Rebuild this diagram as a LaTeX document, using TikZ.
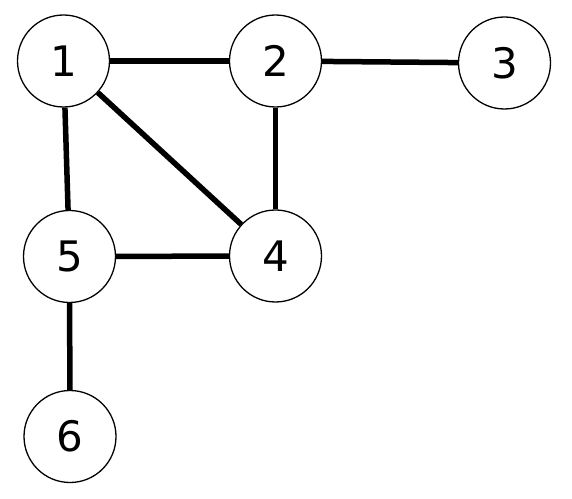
\documentclass[tikz,border=0pt]{standalone}
\usepackage{fontspec}
\setmainfont{DejaVu Sans}
\begin{document}
\begin{tikzpicture}[x=1pt,y=1pt,
  vtx/.style={circle,draw=black,line width=1.3pt,fill=white,minimum size=92pt,inner sep=0pt,font=\fontsize{42}{50}\selectfont},
  edge/.style={line width=5.5pt,black}]
\useasboundingbox (0,0) rectangle (572,498);
\node[vtx] (n1) at (63.5,437) {1};
\node[vtx] (n2) at (275.5,437) {2};
\node[vtx] (n3) at (504.5,435) {3};
\node[vtx] (n5) at (69.5,241.5) {5};
\node[vtx] (n4) at (275.5,242) {4};
\node[vtx] (n6) at (70,61.5) {6};
\draw[edge] (n1) -- (n2);
\draw[edge] (n2) -- (n3);
\draw[edge] (n1) -- (n5);
\draw[edge] (n1) -- (n4);
\draw[edge] (n2) -- (n4);
\draw[edge] (n5) -- (n4);
\draw[edge] (n5) -- (n6);
\end{tikzpicture}
\end{document}
